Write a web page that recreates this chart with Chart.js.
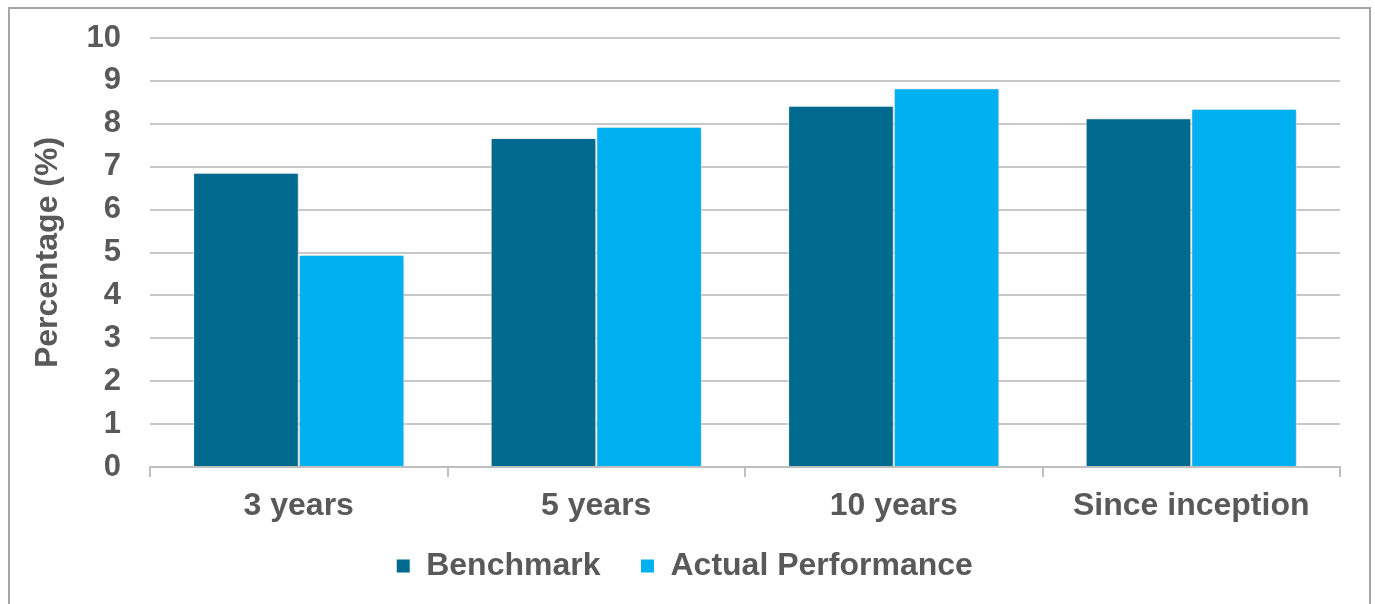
<!DOCTYPE html>
<html>
<head>
<meta charset="utf-8">
<script src="https://cdn.jsdelivr.net/npm/chart.js@4/dist/chart.umd.min.js"></script>
<style>
  html, body { margin: 0; padding: 0; background: #ffffff; overflow: hidden; }
  #frame { position: absolute; left: 8px; top: 7px; width: 1359px; height: 640px; border: 2px solid #a6a6a6; box-sizing: content-box; }
  #wrap { position: absolute; left: 0; top: 0; width: 1375px; height: 604px; }
</style>
</head>
<body>
<div id="frame"></div>
<div id="wrap"><canvas id="c" width="1375" height="604"></canvas></div>
<script>
const categories = ["3 years", "5 years", "10 years", "Since inception"];
const benchmark = [6.86, 7.67, 8.42, 8.13];
const actualPerformance = [4.95, 7.93, 8.83, 8.35];
const yTicks = [0, 1, 2, 3, 4, 5, 6, 7, 8, 9, 10];

const textColor = "#595959";
const fontFamily = "'Liberation Sans', Arial, sans-serif";
const fontSize = 32;
const legendPad = 40;

const shadowPlugin = {
  id: "barShadow",
  beforeDatasetsDraw(chart) {
    const ctx = chart.ctx;
    ctx.save();
    ctx.shadowColor = "rgba(0,0,0,0.22)";
    ctx.shadowBlur = 4;
    ctx.shadowOffsetX = 1;
    ctx.shadowOffsetY = 1;
  },
  afterDatasetsDraw(chart) {
    chart.ctx.restore();
  }
};

new Chart(document.getElementById("c"), {
  type: "bar",
  data: {
    labels: categories,
    datasets: [
      { label: "Benchmark", data: benchmark, backgroundColor: "#006a8e", borderColor: "#ffffff", borderWidth: 1, categoryPercentage: 0.71, barPercentage: 1.0 },
      { label: "Actual Performance", data: actualPerformance, backgroundColor: "#00b0f0", borderColor: "#ffffff", borderWidth: 1, categoryPercentage: 0.71, barPercentage: 1.0 }
    ]
  },
  plugins: [shadowPlugin],
  options: {
    responsive: false,
    animation: false,
    layout: { padding: { left: 29, right: 35, top: 38, bottom: 12 } },
    plugins: {
      tooltip: { enabled: false },
      legend: {
        position: "bottom",
        labels: {
          color: textColor,
          font: { family: fontFamily, size: fontSize, weight: "bold" },
          boxWidth: 14,
          boxHeight: 14,
          padding: legendPad
        }
      }
    },
    scales: {
      x: {
        afterFit(scale) {
          scale.height = 83 - legendPad;
          scale._computeLabelArea = () => undefined;
        },
        grid: { display: true, drawOnChartArea: false, drawTicks: true, tickLength: 10, color: "#bfbfbf", lineWidth: 2, offset: true },
        border: { display: true, color: "#bfbfbf", width: 2 },
        ticks: { color: textColor, font: { family: fontFamily, size: fontSize, weight: "bold" }, padding: 10 }
      },
      y: {
        min: 0,
        max: 10,
        afterFit(scale) { scale.width = 121; scale.paddingTop = 0; scale.paddingBottom = 0; },
        afterBuildTicks(scale) { scale.ticks = yTicks.map(v => ({ value: v })); },
        grid: { color: "#c8c8c8", lineWidth: 2, drawTicks: false },
        border: { display: false },
        ticks: { autoSkip: false, color: textColor, font: { family: fontFamily, size: 31, weight: "bold" }, padding: 29 },
        title: { display: true, text: "Percentage (%)", color: textColor, font: { family: fontFamily, size: fontSize, weight: "bold" }, padding: { top: 0, bottom: 0 } }
      }
    }
  }
});
</script>
</body>
</html>
